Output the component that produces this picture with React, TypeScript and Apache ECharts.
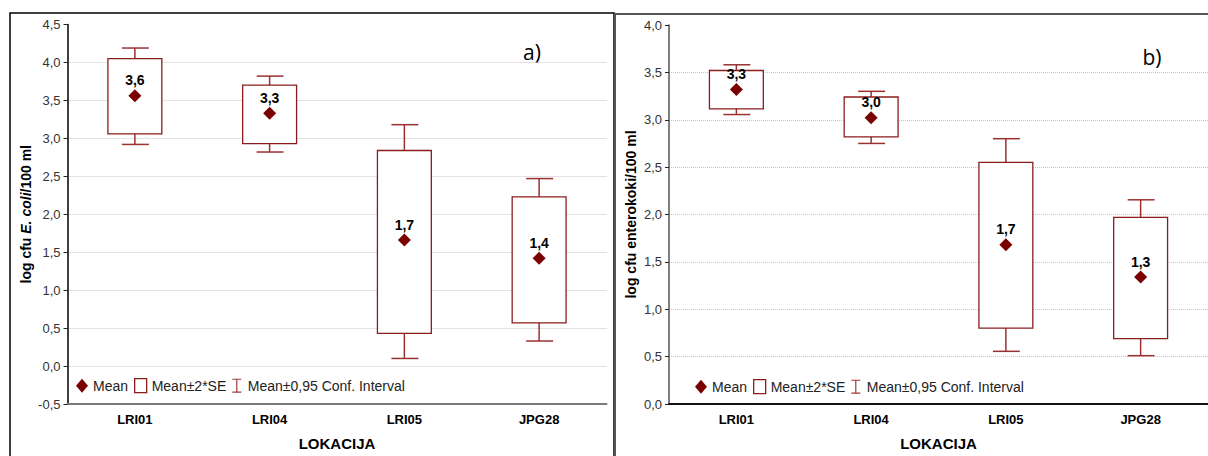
import React, { useEffect, useRef } from "react";
import * as echarts from "echarts";

const categories = ["LRI01", "LRI04", "LRI05", "JPG28"];

// Panel a) E. coli
const ecoliMean = [3.56, 3.33, 1.66, 1.42];
const ecoliSeLow = [3.06, 2.93, 0.43, 0.57];
const ecoliSeHigh = [4.05, 3.7, 2.84, 2.23];
const ecoliCiLow = [2.92, 2.82, 0.1, 0.33];
const ecoliCiHigh = [4.19, 3.82, 3.18, 2.47];

// Panel b) enterokoki
const entMean = [3.32, 3.02, 1.68, 1.34];
const entSeLow = [3.115, 2.82, 0.8, 0.69];
const entSeHigh = [3.52, 3.24, 2.55, 1.97];
const entCiLow = [3.055, 2.75, 0.556, 0.51];
const entCiHigh = [3.58, 3.3, 2.8, 2.155];

const yTicksA = { min: -0.5, max: 4.5, interval: 0.5 };
const yTicksB = { min: 0, max: 4, interval: 0.5 };

const legendNames = ["Mean", "Mean±2*SE", "Mean±0,95 Conf. Interval"];

const RED = "#8b1c1c";
const MEAN_RED = "#7a0000";
const FONT = "'Liberation Sans', Arial, sans-serif";

const fmt = (v: number) => v.toFixed(1).replace(".", ",");

function boxSeries(idx: number, low: number[], high: number[]) {
  return {
    name: legendNames[1],
    type: "custom",
    xAxisIndex: idx,
    yAxisIndex: idx,
    z: 3,
    data: low.map((l, i) => [i, l, high[i]]),
    encode: { x: 0, y: [1, 2] },
    renderItem: (params: any, api: any) => {
      const x = api.value(0);
      const lo = api.coord([x, api.value(1)]);
      const hi = api.coord([x, api.value(2)]);
      const band = api.size([1, 0])[0];
      const w = band * 0.4;
      return {
        type: "rect",
        shape: { x: lo[0] - w / 2, y: hi[1], width: w, height: lo[1] - hi[1] },
        style: { fill: "#fff", stroke: RED, lineWidth: 1.3 },
      };
    },
  };
}

function ciSeries(idx: number, low: number[], high: number[]) {
  return {
    name: legendNames[2],
    type: "custom",
    xAxisIndex: idx,
    yAxisIndex: idx,
    z: 2,
    data: low.map((l, i) => [i, l, high[i]]),
    encode: { x: 0, y: [1, 2] },
    renderItem: (params: any, api: any) => {
      const x = api.value(0);
      const lo = api.coord([x, api.value(1)]);
      const hi = api.coord([x, api.value(2)]);
      const band = api.size([1, 0])[0];
      const c = band * 0.2;
      const cx = lo[0];
      const st = { stroke: "#9a3030", lineWidth: 1.5 };
      return {
        type: "group",
        children: [
          { type: "line", shape: { x1: cx, y1: lo[1], x2: cx, y2: hi[1] }, style: st },
          { type: "line", shape: { x1: cx - c / 2 + 0.5, y1: lo[1], x2: cx + c / 2 + 0.5, y2: lo[1] }, style: st },
          { type: "line", shape: { x1: cx - c / 2 + 0.5, y1: hi[1], x2: cx + c / 2 + 0.5, y2: hi[1] }, style: st },
        ],
      };
    },
  };
}

function meanSeries(idx: number, mean: number[]) {
  return {
    name: legendNames[0],
    type: "scatter",
    xAxisIndex: idx,
    yAxisIndex: idx,
    z: 4,
    symbol: "diamond",
    symbolSize: 13,
    itemStyle: { color: MEAN_RED, opacity: 1 },
    data: mean,
    label: {
      show: true,
      position: "top",
      distance: 2,
      formatter: (p: any) => fmt(p.value),
      color: "#000",
      fontWeight: "bold",
      fontSize: 14,
      fontFamily: FONT,
    },
  };
}

function xAxisCfg(idx: number, lineColor: string) {
  return {
    gridIndex: idx,
    type: "category",
    data: categories,
    axisLine: { onZero: false, lineStyle: { color: lineColor, width: 2 } },
    axisTick: { inside: true, length: 3, alignWithLabel: true, lineStyle: { color: "#333" } },
    axisLabel: { color: "#000", fontWeight: "bold", fontSize: 13, margin: 9, fontFamily: FONT },
    splitLine: { show: false },
    name: "LOKACIJA",
    nameLocation: "middle",
    nameGap: 32,
    nameTextStyle: { fontWeight: "bold", fontSize: 15, color: "#000", fontFamily: FONT },
  };
}

function yAxisCfg(idx: number, ticks: any, lineColor: string, name: string, rich: any, gap: number) {
  return {
    gridIndex: idx,
    type: "value",
    min: ticks.min,
    max: ticks.max,
    interval: ticks.interval,
    axisLine: { show: true, lineStyle: { color: lineColor, width: 1.5 } },
    axisTick: { show: true, length: 4, lineStyle: { color: "#222" } },
    axisLabel: { formatter: (v: number) => fmt(v), color: "#333", fontSize: 13, margin: 7, fontFamily: FONT },
    splitLine: { show: true, showMaxLine: false, lineStyle: { color: "#c4c4c4", type: "dotted", width: 1 } },
    name,
    nameLocation: "middle",
    nameRotate: 90,
    nameGap: gap,
    nameTextStyle: { fontWeight: "bold", fontSize: 14, color: "#000", fontFamily: FONT, rich },
  };
}

function legendCfg(left: number, top: number) {
  return {
    left,
    top,
    padding: 0,
    orient: "horizontal",
    itemWidth: 12,
    itemHeight: 14,
    itemGap: 6,
    selectedMode: false,
    textStyle: { fontSize: 14, color: "#222", fontFamily: FONT },
    data: [
      { name: legendNames[0], icon: "diamond", itemStyle: { color: MEAN_RED, opacity: 1 } },
      { name: legendNames[1], icon: "rect", itemStyle: { color: "#fff", borderColor: RED, borderWidth: 1.3 } },
      {
        name: legendNames[2],
        icon: "path://M0,0H9V1.2H5.1V12.8H9V14H0V12.8H3.9V1.2H0Z",
        itemStyle: { color: "#a03a3a", borderWidth: 0 },
      },
    ],
  };
}

export default function App() {
  const ref = useRef<HTMLDivElement>(null);
  useEffect(() => {
    if (!ref.current) return;
    const chart = echarts.init(ref.current, undefined, { renderer: "svg" });
    const richA = {
      n: { fontWeight: "bold", fontSize: 14, color: "#000", fontFamily: FONT },
      i: { fontWeight: "bold", fontStyle: "italic", fontSize: 14, color: "#000", fontFamily: FONT },
    };
    const richB = {
      n: { fontWeight: "bold", fontSize: 14, color: "#000", fontFamily: FONT },
    };
    chart.setOption({
      animation: false,
      backgroundColor: "#fff",
      textStyle: { fontFamily: FONT },
      grid: [
        { left: 67.5, top: 24.5, width: 539, height: 380 },
        { left: 669, top: 25, width: 543, height: 381 },
      ],
      xAxis: [xAxisCfg(0, "#7a7a7a"), xAxisCfg(1, "#111")],
      yAxis: [
        yAxisCfg(0, yTicksA, "#000", "{n|log cfu }{i|E. coli}{n|/100 ml}", richA, 35),
        yAxisCfg(1, yTicksB, "#555", "{n|log cfu enterokoki/100 ml}", richB, 31),
      ],
      legend: [legendCfg(76, 378), legendCfg(695, 379)],
      series: [
        ciSeries(0, ecoliCiLow, ecoliCiHigh),
        boxSeries(0, ecoliSeLow, ecoliSeHigh),
        meanSeries(0, ecoliMean),
        ciSeries(1, entCiLow, entCiHigh),
        boxSeries(1, entSeLow, entSeHigh),
        meanSeries(1, entMean),
      ],
      graphic: [
        {
          type: "rect",
          silent: true,
          shape: { x: 10, y: 13, width: 604, height: 520 },
          style: { fill: "none", stroke: "#000", lineWidth: 1.5 },
        },
        {
          type: "rect",
          silent: true,
          shape: { x: 615, y: 14, width: 700, height: 520 },
          style: { fill: "none", stroke: "#555", lineWidth: 2 },
        },
        {
          type: "text",
          x: 532,
          y: 52,
          style: { text: "a)", fontSize: 21, fill: "#000", fontFamily: "'Open Sans', sans-serif", align: "center", verticalAlign: "middle" },
        },
        {
          type: "text",
          x: 1152,
          y: 57,
          style: { text: "b)", fontSize: 21, fill: "#000", fontFamily: "'Open Sans', sans-serif", align: "center", verticalAlign: "middle" },
        },
      ],
    });
    return () => chart.dispose();
  }, []);
  return (
    <div
      ref={ref}
      style={{ position: "fixed", left: 0, top: 0, width: 1208, height: 456, background: "#fff" }}
    />
  );
}
